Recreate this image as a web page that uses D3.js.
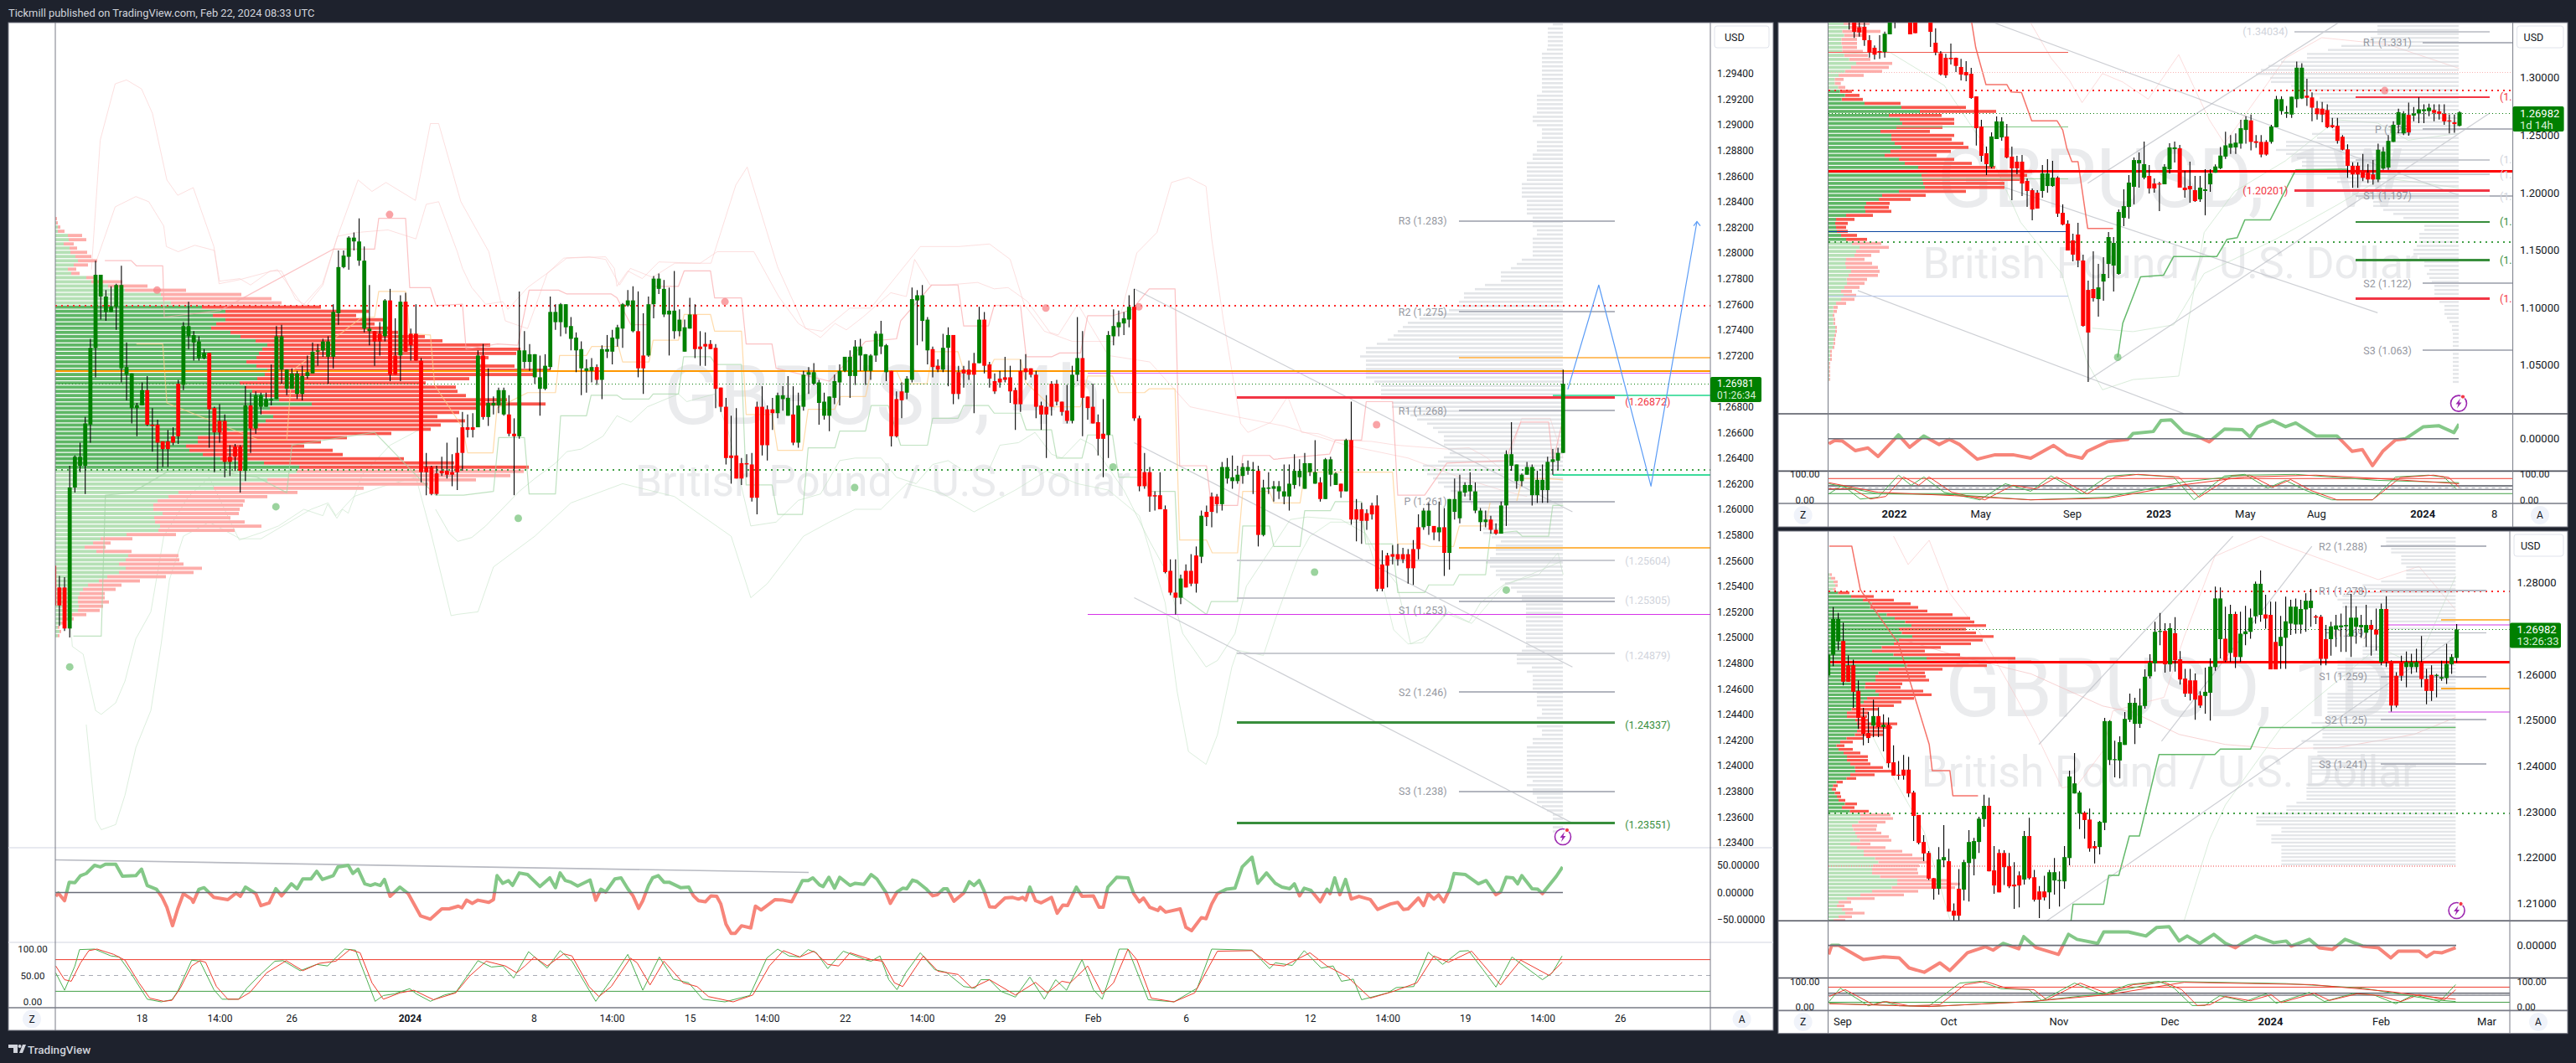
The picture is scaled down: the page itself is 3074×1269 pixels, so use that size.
<!DOCTYPE html>
<html><head><meta charset="utf-8"><script src="https://cdn.jsdelivr.net/npm/d3@7"></script>
<style>html,body{margin:0;padding:0;background:#1e222d}text{font-family:Roboto,"Liberation Sans",sans-serif}</style></head>
<body><div id="c"></div><script>
// ---------- price data, in pips (12698 = 1.2698), rows are [open, close, high, low]
const candles4h=[[12556,12525,12560,12520],[12539,12525,12548,12509],[12539,12507,12547,12505],[12507,12617,12634,12500],[12617,12641,12642,12613],[12634,12641,12652,12629],[12634,12667,12672,12612],[12666,12726,12733,12652],[12726,12783,12794,12703],[12766,12783,12783,12748],[12754,12766,12771,12747],[12754,12758,12774,12754],[12758,12775,12776,12740],[12710,12775,12790,12699],[12705,12711,12730,12685],[12679,12706,12706,12667],[12679,12681,12683,12657],[12681,12693,12699,12681],[12693,12666,12704,12665],[12666,12665,12679,12645],[12666,12652,12670,12629],[12653,12647,12653,12633],[12653,12647,12662,12633],[12657,12652,12664,12650],[12698,12657,12701,12651],[12697,12743,12746,12693],[12735,12743,12762,12725],[12730,12736,12739,12716],[12718,12731,12735,12716],[12718,12722,12725,12717],[12722,12678,12722,12648],[12679,12660,12680,12629],[12669,12660,12682,12652],[12669,12637,12674,12625],[12641,12637,12650,12626],[12649,12641,12651,12630],[12649,12630,12650,12613],[12630,12681,12696,12622],[12681,12663,12691,12644],[12663,12689,12692,12659],[12680,12689,12691,12674],[12680,12686,12691,12680],[12685,12686,12713,12681],[12686,12735,12743,12686],[12709,12735,12744,12698],[12694,12709,12709,12689],[12694,12706,12710,12694],[12690,12706,12708,12686],[12690,12704,12712,12685],[12704,12707,12720,12702],[12706,12723,12730,12706],[12723,12724,12729,12712],[12724,12731,12733,12719],[12719,12731,12735,12698],[12719,12754,12760,12710],[12753,12789,12802,12744],[12789,12798,12802,12788],[12797,12812,12813,12787],[12809,12812,12816,12802],[12794,12809,12827,12790],[12741,12794,12805,12738],[12739,12741,12775,12728],[12739,12731,12739,12712],[12737,12731,12746,12720],[12735,12763,12764,12731],[12763,12705,12772,12700],[12720,12705,12749,12705],[12720,12762,12767,12700],[12762,12723,12769,12723],[12737,12728,12741,12716],[12737,12716,12760,12716],[12716,12629,12718,12621],[12633,12629,12644,12611],[12633,12612,12634,12611],[12628,12612,12634,12611],
[12630,12628,12641,12626],[12630,12627,12652,12624],[12629,12627,12643,12618],[12644,12629,12656,12615],[12664,12644,12676,12630],[12664,12662,12674,12656],[12664,12662,12675,12656],[12664,12720,12724,12664],[12720,12672,12729,12670],[12672,12683,12710,12665],[12681,12683,12688,12674],[12681,12693,12695,12675],[12674,12693,12695,12673],[12674,12659,12689,12657],[12659,12657,12671,12611],[12657,12724,12770,12655],[12715,12724,12739,12710],[12715,12721,12729,12708],[12703,12721,12721,12698],[12694,12703,12720,12673],[12694,12712,12721,12693],[12711,12754,12766,12709],[12746,12754,12760,12740],[12746,12760,12761,12735],[12742,12760,12760,12737],[12733,12743,12750,12724],[12724,12734,12738,12707],[12710,12725,12731,12689],[12708,12710,12717,12691],[12708,12711,12718,12699],[12711,12701,12713,12697],[12701,12725,12728,12686],[12723,12725,12736,12718],[12723,12734,12740,12713],[12733,12742,12744,12727],[12741,12760,12761,12726],[12759,12763,12771,12758],[12739,12763,12774,12738],[12739,12710,12770,12703],[12720,12710,12753,12690],[12720,12760,12766,12719],[12760,12780,12782,12749],[12772,12780,12784,12768],[12752,12772,12779,12750],[12752,12755,12773,12720],[12739,12755,12786,12733],[12739,12748,12756,12735],[12723,12742,12748,12723],[12741,12752,12765,12741],[12752,12725,12760,12718],[12727,12725,12739,12712],[12729,12727,12738,12712],[12729,12725,12732,12725],[12726,12694,12729,12679],[12695,12680,12695,12676],[12680,12640,12687,12635],[12642,12640,12673,12620],[12642,12624,12679,12624],[12636,12624,12640,12619],[12636,12635,12643,12625],[12635,12609,12644,12606],[12680,12609,12684,12596],[12680,12650,12696,12642],[12678,12650,12681,12638],[12678,12675,12687,12662],[12675,12689,12691,12671],[12686,12689,12696,12677],[12673,12687,12704,12673],[12674,12652,12696,12650],[12652,12681,12691,12648],[12680,12705,12708,12677],[12705,12707,12711,12690],[12698,12707,12714,12697],[12683,12699,12701,12666],
[12673,12684,12691,12670],[12673,12688,12688,12661],[12687,12700,12705,12682],[12699,12708,12713,12681],[12708,12719,12719,12707],[12704,12719,12724,12687],[12704,12727,12732,12697],[12720,12727,12733,12708],[12708,12721,12721,12697],[12708,12720,12721,12701],[12720,12737,12739,12715],[12727,12737,12747,12721],[12707,12728,12729,12700],[12708,12657,12708,12649],[12686,12657,12692,12656],[12692,12685,12699,12671],[12691,12702,12704,12686],[12701,12764,12773,12699],[12763,12767,12771,12728],[12747,12767,12775,12731],[12724,12748,12750,12713],[12725,12711,12727,12703],[12712,12709,12717,12707],[12709,12726,12737,12707],[12726,12736,12742,12696],[12736,12690,12736,12682],[12707,12690,12712,12686],[12709,12706,12712,12695],[12709,12705,12716,12701],[12714,12705,12722,12675],[12714,12748,12758,12714],[12748,12712,12754,12706],[12713,12702,12715,12695],[12700,12692,12706,12690],[12702,12699,12708,12695],[12703,12701,12719,12699],[12703,12692,12712,12683],[12693,12682,12695,12662],[12708,12682,12717,12676],[12710,12707,12721,12701],[12710,12705,12710,12703],[12705,12680,12708,12671],[12681,12674,12684,12662],[12680,12674,12689,12640],[12698,12680,12700,12673],[12698,12684,12701,12681],[12684,12676,12684,12673],[12677,12669,12697,12667],[12669,12705,12712,12667],[12705,12718,12750,12700],[12718,12687,12739,12657],[12688,12679,12688,12670],[12680,12667,12698,12667],[12668,12655,12674,12642],[12659,12655,12686,12625],[12658,12736,12739,12640],[12735,12743,12756,12728],[12742,12746,12755,12735],[12745,12749,12754,12736],[12748,12758,12767,12742],[12758,12671,12772,12669],[12671,12618,12673,12614],[12629,12618,12644,12616],[12629,12610,12633,12598],[12611,12610,12614,12599],[12611,12600,12629,12600],[12600,12551,12603,12550],[12552,12535,12561,12533],[12535,12531,12561,12518],[12531,12546,12549,12526],[12552,12539,12557,12539],[12552,12542,12565,12540],[12564,12542,12571,12535],
[12563,12595,12599,12558],[12598,12594,12603,12587],[12610,12598,12613,12586],[12610,12604,12612,12597],[12604,12633,12637,12599],[12624,12633,12640,12620],[12622,12625,12642,12616],[12622,12627,12634,12620],[12626,12633,12636,12620],[12630,12633,12638,12627],[12630,12631,12637,12612],[12630,12580,12634,12571],[12580,12617,12623,12579],[12616,12617,12629,12612],[12616,12618,12622,12606],[12614,12618,12622,12608],[12610,12614,12635,12604],[12610,12620,12635,12599],[12619,12630,12643,12616],[12625,12630,12639,12618],[12616,12636,12644,12616],[12629,12636,12636,12626],[12620,12629,12654,12620],[12621,12608,12625,12606],[12608,12639,12640,12608],[12627,12639,12641,12618],[12619,12628,12629,12619],[12620,12614,12620,12609],[12614,12654,12655,12614],[12654,12592,12684,12588],[12600,12592,12608,12575],[12600,12591,12605,12573],[12597,12591,12600,12584],[12603,12596,12605,12592],[12603,12538,12611,12536],[12557,12538,12568,12536],[12564,12556,12566,12539],[12565,12563,12572,12557],[12565,12561,12573,12556],[12565,12561,12570,12558],[12565,12554,12569,12542],[12569,12554,12576,12541],[12586,12569,12596,12561],[12586,12599,12601,12584],[12587,12599,12605,12580],[12587,12582,12587,12576],[12582,12586,12606,12575],[12586,12566,12601,12548],[12566,12608,12608,12553],[12598,12608,12624,12592],[12593,12614,12627,12589],[12613,12619,12621,12610],[12614,12619,12629,12607],[12599,12614,12621,12597],[12590,12599,12601,12583],[12590,12592,12599,12586],[12592,12584,12595,12581],[12584,12581,12589,12580],[12581,12603,12606,12581],[12603,12643,12646,12587],[12634,12643,12668,12630],[12622,12635,12635,12616],[12622,12627,12628,12618],[12627,12633,12637,12627],[12611,12633,12635,12603],[12611,12623,12630,12605],[12615,12623,12635,12605],[12615,12637,12641,12605],[12637,12639,12647,12627],[12638,12644,12648,12631],[12644,12698,12709,12644]];
const candles1w=[[13520,13560,13600,13418],[13500,13399,13530,13345],[13438,13394,13500,13357],[13443,13326,13480,13277],[13326,13219,13370,13175],[13260,13200,13280,13158],[13231,13219,13370,13163],[13224,13382,13400,13175],[13377,13500,13530,13377],[13500,13560,13600,13430],[13550,13600,13650,13520],[13600,13560,13650,13510],[13560,13377,13600,13377],[13500,13387,13520,13387],[13520,13500,13540,13490],[13500,13520,13560,13490],[13520,13399,13560,13268],[13304,13219,13430,13195],[13212,13027,13231,13017],[13173,13020,13207,12998],[13173,13161,13297,13114],[13173,13102,13175,13049],[13093,13027,13163,12976],[13049,13020,13144,12969],[13034,12823,13085,12816],[12837,12560,12837,12410],[12575,12320,12633,12269],[12342,12247,12400,12152],[12225,12488,12524,12211],[12466,12619,12662,12466],[12480,12619,12655,12451],[12488,12305,12597,12298],[12313,12211,12400,11934],[12269,12211,12320,12160],[12269,12079,12327,11970],[12101,12014,12123,11875],[12021,11853,12036,11759],[11999,11861,12021,11861],[12014,12167,12240,11955],[12057,12167,12291,11999],[12057,12130,12276,12050],[12130,11817,12142,11788],[11824,11722,11897,11715],[11729,11496,11759,11496],[11584,11460,11642,11401],[11635,11409,11737,11350],[11409,10840,11460,10833],[11153,10782,11234,10352],[11161,11081,11489,11051],[11073,11175,11379,10920],[11226,11292,11438,11059],[11379,11613,11656,11255],[11365,11562,11613,11139],[11292,11831,11853,11285],[11780,11882,12028,11708],[11875,12087,12152,11773],[12050,12283,12305,11897],[12254,12283,12349,12043],[12130,12247,12444,12116],[12145,12036,12240,11992],[12079,12036,12123,11999],[12079,12072,12094,11839],[12072,12225,12247,12072],[12203,12393,12429,12167],[12378,12393,12444,12262],[12385,12043,12415,12043],[12043,12021,12189,11955],[12057,12028,12269,11912],[12021,11926,12145,11919],[11941,12043,12145,11919],[12014,12028,12203,11802],[12072,12167,12203,12006],
[12173,12227,12246,12173],[12212,12322,12397,12203],[12313,12411,12530,12292],[12390,12426,12501,12337],[12393,12435,12515,12337],[12426,12560,12634,12382],[12545,12634,12664,12426],[12628,12441,12679,12367],[12447,12432,12501,12390],[12441,12331,12501,12307],[12441,12331,12456,12322],[12441,12575,12590,12426],[12569,12813,12842,12569],[12709,12813,12837,12679],[12688,12700,12753,12649],[12679,12834,12834,12649],[12813,13087,13140,12739],[12819,13087,13125,12813],[12843,12825,12991,12753],[12828,12739,12872,12620],[12733,12682,12798,12635],[12730,12679,12789,12611],[12718,12569,12768,12560],[12587,12569,12649,12560],[12581,12450,12649,12426],[12486,12373,12501,12367],[12376,12233,12420,12129],[12233,12158,12263,12042],[12233,12158,12263,12042],[12194,12129,12337,12099],[12173,12114,12248,12084],[12158,12114,12283,12069],[12114,12373,12426,12090],[12209,12358,12397,12197],[12218,12450,12500,12197],[12441,12590,12620,12441],[12590,12700,12730,12515],[12515,12688,12709,12500],[12676,12524,12783,12495],[12670,12688,12745,12620],[12688,12724,12828,12605],[12709,12724,12768,12605],[12709,12739,12774,12664],[12718,12694,12768,12620],[12706,12685,12768,12635],[12685,12620,12768,12590],[12628,12620,12679,12515],[12611,12596,12679,12521],[12581,12698,12709,12575]];
const candles1d=[[12598,12643,12660,12577],[12643,12721,12747,12618],[12672,12721,12734,12653],[12673,12584,12713,12576],[12620,12584,12642,12584],[12620,12562,12632,12527],[12564,12505,12587,12481],[12507,12470,12527,12445],[12472,12461,12518,12450],[12488,12509,12545,12463],[12509,12485,12528,12463],[12485,12490,12513,12432],[12490,12406,12506,12396],[12408,12379,12445,12379],[12381,12379,12411,12370],[12392,12379,12424,12370],[12392,12340,12420,12332],[12342,12291,12346,12236],[12293,12232,12293,12229],[12234,12209,12249,12192],[12210,12154,12214,12151],[12155,12132,12155,12108],[12132,12196,12223,12119],[12194,12201,12271,12179],[12192,12082,12219,12082],[12084,12073,12100,12061],[12132,12073,12175,12060],[12130,12190,12195,12106],[12188,12234,12260,12104],[12197,12236,12243,12161],[12234,12285,12289,12210],[12284,12313,12337,12267],[12313,12170,12331,12170],[12172,12139,12225,12121],[12210,12124,12218,12124],[12210,12179,12216,12140],[12181,12137,12210,12133],[12141,12137,12190,12088],[12161,12139,12170,12091],[12152,12247,12258,12141],[12247,12155,12287,12152],[12157,12108,12173,12104],[12126,12108,12138,12068],[12126,12113,12160,12106],[12124,12168,12173,12088],[12150,12168,12199,12119],[12150,12151,12170,12093],[12148,12201,12225,12132],[12199,12377,12390,12183],[12340,12362,12428,12340],[12296,12342,12346,12262],[12298,12282,12301,12241],[12283,12220,12307,12213],[12225,12220,12236,12187],[12223,12278,12280,12207],[12276,12498,12505,12260],[12413,12498,12500,12402],[12413,12415,12455,12375],[12412,12452,12465,12373],[12446,12503,12518,12446],[12501,12538,12558,12496],[12492,12538,12549,12448],[12492,12532,12569,12483],[12531,12595,12611,12525],[12596,12626,12644,12591],[12624,12693,12715,12606],[12693,12695,12734,12664],[12695,12622,12712,12604],[12622,12701,12712,12606],[12690,12631,12725,12606],[12633,12589,12651,12578],[12591,12558,12612,12551],[12587,12558,12612,12543],[12587,12545,12602,12501],[12554,12532,12563,12527],[12553,12562,12615,12514],[12560,12617,12635,12499],
[12616,12766,12792,12608],[12677,12766,12790,12635],[12678,12630,12748,12627],[12647,12732,12752,12627],[12732,12638,12737,12614],[12638,12689,12737,12627],[12688,12694,12750,12664],[12693,12724,12744,12678],[12727,12798,12803,12711],[12730,12798,12827,12715],[12731,12722,12774,12700],[12730,12611,12759,12611],[12671,12611,12759,12611],[12662,12682,12728,12612],[12680,12716,12770,12612],[12711,12748,12763,12686],[12709,12748,12766,12689],[12709,12743,12763,12689],[12742,12761,12777,12693],[12745,12761,12787,12704],[12727,12724,12730,12710],[12726,12634,12730,12620],[12677,12634,12708,12620],[12677,12705,12715,12641],[12698,12707,12730,12660],[12703,12707,12733,12649],[12705,12708,12750,12649],[12683,12724,12776,12638],[12704,12724,12749,12667],[12703,12708,12730,12680],[12691,12708,12752,12660],[12708,12698,12719,12641],[12698,12687,12744,12652],[12627,12743,12755,12620],[12743,12627,12771,12616],[12629,12532,12631,12519],[12597,12532,12605,12528],[12627,12597,12641,12586],[12616,12627,12650,12572],[12616,12627,12645,12601],[12616,12627,12656,12605],[12627,12590,12684,12572],[12590,12564,12612,12535],[12599,12564,12620,12542],[12597,12599,12601,12550],[12591,12594,12630,12586],[12592,12623,12667,12579],[12622,12638,12644,12601],[12636,12698,12710,12626]];
// ---------- volume profile, up volume and total volume per row, top row first
const vpUp4h=[0,1,3,3,15,16,10,17,18,24,27,22,15,19,37,43,63,83,126,128,138,175,203,188,203,192,186,209,221,239,253,247,243,240,228,240,253,250,241,220,227,235,250,267,306,256,245,260,251,240,233,195,170,170,156,160,176,197,249,291,288,278,253,222,189,147,135,122,117,117,128,118,119,125,123,85,54,45,35,49,87,84,76,84,76,62,52,39,33,29,27,27,28,27,20,20,7,3,5,3];
const vpAll4h=[2,3,6,11,32,37,22,26,38,43,50,39,25,29,50,80,110,156,222,258,270,317,374,359,391,381,398,409,441,462,519,555,550,517,502,548,591,571,494,442,478,480,490,539,585,502,482,456,489,460,448,401,348,317,297,331,343,416,476,565,559,543,502,445,368,289,253,226,224,220,219,209,226,246,214,144,92,66,60,91,147,148,153,175,165,132,101,79,72,59,59,64,57,53,37,22,10,5,7,5];
const vpUp1w=[60,80,55,62,52,52,55,55,62,80,105,87,65,42,28,28,40,47,65,53,135,267,333,222,261,270,249,192,231,231,243,267,228,207,258,279,327,360,339,342,345,351,258,198,186,141,135,138,69,33,30,33,36,51,69,90,117,105,99,69,66,69,87,78,71,72,63,51,60,51,33,23,23,21,23,23,30,30,27,24,23,21,12,12,12,8,8,8,8,8];
const vpAll1w=[153,125,192,130,108,108,108,129,147,156,234,222,198,132,60,50,66,90,117,129,264,498,606,411,456,456,414,369,456,447,489,507,444,393,456,519,603,735,717,690,636,636,498,354,300,225,222,231,165,99,75,69,75,108,144,195,222,189,159,135,162,183,189,183,144,135,117,90,105,99,69,39,36,27,30,30,36,36,33,30,30,27,18,18,18,12,12,12,12,12];
const vpUp1d=[10,15,24,30,22,40,87,129,160,155,178,214,243,280,303,258,268,306,258,240,196,162,238,357,390,286,222,184,174,174,138,136,174,186,144,132,120,88,72,72,102,108,114,108,100,70,48,34,42,60,72,72,84,100,102,84,70,34,22,18,28,36,42,64,54,82,120,120,112,90,94,102,108,118,84,108,132,132,172,184,165,162,162,190,252,252,232,162,120,72,42,36,54,66,42,24];
const vpAll1d=[18,30,39,39,32,81,168,240,300,327,360,450,513,528,570,498,534,597,558,516,408,351,477,675,732,573,414,351,354,366,270,264,345,375,312,267,240,184,150,144,150,252,234,201,201,130,93,63,93,120,147,147,156,201,234,171,105,57,39,33,48,51,66,108,99,150,228,237,210,180,177,195,222,231,156,210,270,306,345,358,330,324,327,370,430,477,459,327,276,171,87,63,93,135,90,66];
const sessionVol4h=[12,18,18,18,18,18,19,25,25,25,25,25,25,25,25,25,25,31,31,31,31,31,36,36,31,25,25,25,31,31,31,36,36,43,43,43,43,43,49,49,49,49,43,43,43,43,36,36,36,31,31,36,36,36,36,36,49,55,62,74,74,74,93,105,118,118,124,124,136,166,171,185,191,197,202,209,222,235,235,242,235,235,235,235,235,225,217,217,217,217,204,204,190,182,174,162,155,149,142,142,142,137,135,142,149,167,167,162,155,149,142,134,125,120,110,105,102,100,100,95,95,95,85,74,80,80,80,87,92,87,80,80,75,69,62,55,49,49,44,44,44,44,44,44,44,44,44,44,44,49,55,55,55,37,43,36,36,36,36,31,31,31,31,25,25,31,31,31,25,25,36,36,43,43,43,43,43,43,43,43,36,43,36,36,31,31,25,19,12,12,12,12,12];
const sessionVol1w=[97,97,97,105,114,140,156,181,181,212,227,236,242,225,224,200,181,175,166,166,157,166,166,157,145,145,151,175,169,206,206,218,206,193,187,187,193,200,157,145,127,127,127,120,102,102,90,78,66,54,41,41,47,47,47,50,54,54,47,41,41,35,38,35,32,29,29,29,29,23,17,17,17,14,11,8,8,7,7,7,7,7,7,7,7,7,7,7,7,7];
const sessionVol1d=[83,83,83,77,77,65,65,65,59,59,59,59,89,111,123,129,135,141,135,135,92,92,92,92,92,92,92,92,92,92,111,111,111,111,141,141,141,141,141,129,129,129,129,153,153,153,153,153,153,153,153,172,159,159,159,159,184,170,170,165,165,172,172,172,172,172,156,156,178,178,178,178,178,190,202,202,232,238,238,238,208,208,220,220,220,208,208,208,208,208,208];
// ---------- indicator lines, rows are [bar index, value]
const u1_4h=[[7.2,12787],[8.9,12888],[11.8,12932],[14,12935],[16.9,12928],[19,12909],[21.8,12857],[23.9,12845],[26.9,12851],[30.9,12805],[31.9,12776],[35.7,12779],[43.2,12787],[48.1,12759],[51.9,12776],[55.1,12816],[58.8,12857],[61.5,12848],[64.2,12855],[69.9,12841],[72.8,12901],[74.4,12901],[78.7,12840],[84.1,12801],[87.3,12747],[91.6,12741],[95.4,12784],[98.6,12796],[103.5,12797],[106.7,12795],[109.4,12775],[111.5,12788],[115.8,12781],[120.1,12792],[127.1,12792],[131.9,12853],[134.1,12867],[140,12789],[145.4,12741],[148.6,12739],[154,12757],[158,12757],[167.6,12805],[175,12805],[181,12807],[185,12795],[187.7,12760],[191.6,12739],[197,12731],[205,12731],[209.5,12800],[213.4,12816],[216.2,12855],[219.5,12859],[222.9,12852],[224,12811],[226.2,12749],[229.6,12667],[231,12660],[235.5,12668],[238.7,12688],[241.4,12660],[244.6,12659],[247.9,12654],[254.9,12653],[259.8,12650],[269.5,12647],[273.8,12648],[277,12641],[280.8,12629],[284,12671],[289.5,12671],[292,12640]];
const u2_4h=[[8,12792],[11.8,12836],[15.8,12844],[18.3,12840],[21.2,12821],[21.7,12805],[24,12801],[27.2,12806],[31,12802],[32,12778],[35.9,12780],[38,12775],[41.8,12786],[44,12786],[46.7,12764],[48.8,12759],[52,12775],[54.8,12813],[58.6,12816],[64.6,12818],[70,12811],[72,12838],[74.4,12840],[78,12801],[79,12788],[80.8,12773],[83.5,12760],[86.8,12762],[87.8,12756],[91.6,12773],[96,12786],[99.2,12796],[106.7,12797],[108.4,12788],[108.9,12774],[111,12786],[113.8,12780],[117,12793],[125,12792],[128.3,12801],[135.4,12801],[140.2,12766],[144,12745],[148.3,12734],[151.1,12745],[153.3,12740],[156.5,12750],[161.9,12769],[164.9,12766],[166.5,12795],[169.5,12775],[172.7,12775],[178.7,12777],[181.9,12772],[184.6,12773],[188.4,12762],[192.7,12738],[194.3,12736],[198.1,12760],[204,12720],[212,12715],[219.8,12680],[229,12672],[238,12665],[250,12650],[262,12640],[272,12625],[280,12615],[285,12610]];
const l0_4h=[[2.4,12553],[3.5,12493],[5.6,12487],[8,12443],[9.1,12440],[11.9,12449],[13.7,12466],[15.8,12499],[18.7,12520],[21.2,12579],[26,12610],[30,12625],[35.8,12576],[40.2,12582],[43.4,12587],[48.3,12600],[52,12595],[52.9,12604],[54.7,12593],[55.8,12600],[56.9,12597],[59.6,12627],[65,12650],[72,12665]];
const l1_4h=[[6.2,12432],[8,12358],[9.1,12350],[11.9,12354],[13.7,12377],[15.8,12414],[18.7,12443],[20.7,12495],[22.3,12545],[25,12579],[30,12590],[36,12577],[40,12577],[49.7,12600],[53,12605],[54.5,12595],[58,12610],[63.7,12618],[70,12625],[73,12580],[76.8,12517],[78,12518],[82,12520],[85,12555],[93,12579],[100,12605],[110,12620],[120,12610],[131,12579],[134.8,12531],[138,12542],[145,12579],[150,12590],[155,12600],[160,12600],[165,12620],[172,12612],[178,12598],[186,12615],[192,12630],[198,12620],[204,12615],[210,12595],[215,12527],[217.3,12458],[219.5,12411],[222.9,12401],[225.1,12424],[227.9,12477],[229,12490],[234,12486],[236.3,12514],[240.8,12563],[243,12579],[247,12590],[253,12590],[257.5,12534],[259.2,12506],[262,12495],[264.8,12496],[269.2,12519],[274.3,12511],[280.4,12540],[292,12560]];
const l2_4h=[[73.8,12600],[76.5,12581],[78.1,12575],[80.8,12578],[83.5,12587],[90,12614],[93,12624],[97,12636],[99.2,12645],[102,12647],[106.2,12657],[108.9,12673],[111.6,12668],[114.8,12680],[120.8,12690],[122.4,12684],[127.8,12690],[130.5,12660],[134.8,12587],[139.7,12590],[144,12607],[148.3,12612],[152,12638],[155,12640],[160,12640],[163,12625],[166.8,12620],[170,12635],[173,12638],[176,12630],[181,12632],[183,12650],[186.6,12652],[189.8,12660],[193,12643],[195,12640],[198.6,12655],[201,12650],[207,12615],[212,12575],[215,12553],[218.4,12503],[222.9,12477],[225.1,12482],[228.5,12503],[230.7,12540],[239.2,12592],[242.5,12594],[249,12592],[253.8,12581],[257.6,12553],[259.8,12542],[262.5,12495],[265.7,12501],[269.8,12520],[273.8,12512],[276,12527],[280.8,12542],[287.3,12549],[291,12566],[292,12549]];
const pinkA_4h=[[9.8,12794],[14.9,12794],[15.9,12790],[21,12790],[21.3,12750],[32,12755],[54,12803],[62,12803],[62.8,12827],[68,12827],[68.8,12773],[72.8,12773],[73.9,12759],[79,12760],[79.7,12725],[85.8,12729],[89.7,12728],[91.9,12771],[97.6,12771],[99.2,12768],[107.8,12768],[108.9,12765],[111.6,12744],[115,12744],[116,12774],[120.8,12774],[121.9,12786],[127,12786],[127.8,12765],[133,12765],[133.9,12729],[138.9,12729],[139.7,12710],[150,12700],[157,12731],[163,12733],[163.8,12747],[169.8,12775],[174.9,12775],[176,12743],[180.8,12743],[181.9,12759],[187,12759],[188.1,12719],[193,12719],[194.6,12722],[198.6,12722],[200,12751],[204.8,12751],[208.6,12756],[211.9,12772],[216.9,12772],[217.8,12634],[223,12634],[223.9,12603],[229,12603],[230,12642],[235.2,12642],[236,12639],[246.8,12643],[247.9,12654],[253,12654],[253.9,12684],[259,12684],[260,12611],[265.2,12611],[269.5,12636],[280.8,12638],[283.8,12668],[289.2,12668],[290,12636],[292,12671]];
const orangeA_4h=[[15.9,12729],[21,12729],[21.8,12683],[39.6,12654],[45,12654],[46,12708],[59.6,12750],[62,12750],[62.8,12770],[68,12770],[68.8,12737],[72.8,12736],[73.6,12697],[79,12664],[80,12644],[84.9,12644],[85.7,12679],[91.6,12691],[97,12691],[97.8,12720],[103,12720],[104,12727],[109.2,12727],[110,12715],[115.1,12715],[115.9,12732],[120.8,12732],[121.9,12752],[127,12752],[127.8,12739],[133,12739],[133.9,12674],[138.9,12674],[140,12646],[144.8,12646],[145.9,12678],[151,12678],[152.2,12688],[157,12688],[158.1,12708],[163,12708],[164.1,12698],[168.9,12698],[170,12723],[174.9,12723],[176,12708],[180.8,12708],[181.9,12717],[187,12717],[188,12699],[193,12680],[198.6,12680],[200,12704],[204.8,12704],[206,12691],[211,12691],[211.9,12694],[216.9,12694],[217.8,12576],[223,12576],[224.1,12566],[229,12566],[230,12614],[235.2,12614],[236,12605],[241.1,12605],[242,12629],[248,12629],[259,12629],[260,12573],[264.9,12573],[266.2,12571],[270.8,12571],[271.9,12587],[277,12587],[277.9,12606],[283,12606],[284.1,12624],[289.2,12624],[292,12623]];
const greenA_4h=[[3.7,12501],[9.1,12501],[9.9,12611],[15,12613],[21.8,12629],[27,12632],[39.3,12625],[45,12613],[46,12650],[62,12660],[73.8,12611],[79.2,12611],[85,12614],[86,12656],[91,12656],[91.9,12612],[97,12612],[98,12673],[103,12673],[103.9,12689],[108.9,12689],[110,12686],[115.1,12686],[115.9,12690],[120.8,12690],[121.8,12719],[127,12719],[128,12713],[133,12713],[133.9,12619],[138.9,12619],[140,12596],[144.8,12596],[145.9,12648],[151.1,12648],[152,12661],[157,12661],[158.1,12681],[161.4,12681],[163.8,12650],[169,12650],[170,12671],[174.9,12671],[176,12681],[180.8,12681],[181.9,12675],[187,12675],[188.1,12662],[193,12662],[194,12640],[198.9,12640],[200,12658],[204.8,12658],[206,12625],[211,12625],[211.9,12614],[216.9,12614],[217.8,12533],[223,12518],[223.9,12528],[229,12528],[230,12587],[235.2,12587],[236,12571],[241.1,12571],[242,12599],[247,12599],[247.9,12606],[253,12606],[253.8,12573],[259,12573],[260,12535],[265.2,12535],[266,12541],[270.8,12541],[271.9,12549],[277,12549],[277.9,12581],[283,12583],[284.1,12579],[289.2,12579],[290,12603],[292,12603]];
const osc4h=[[0.3,-7],[0.8,-1],[2,-15],[2.9,19],[4,18],[5.1,31],[6.2,35],[7.8,50],[8.9,47],[9.9,52],[11.9,52],[13.2,30],[15.8,31],[16.9,43],[18,13],[19.8,6],[20.9,-9],[21.8,-27],[22.9,-61],[23.9,-30],[25,-2],[26.6,-12],[26.9,-18],[28,6],[29,9],[30.9,-9],[33.6,-13],[35.2,-1],[36,-7],[37,10],[39,-2],[40,-24],[41.6,-19],[42.9,7],[44,-6],[45.9,16],[47,7],[48.1,25],[49.7,25],[50.8,39],[51.9,24],[54,31],[54.9,47],[56.9,50],[57.8,35],[58.8,43],[60.1,16],[61.2,13],[62.1,16],[63.1,13],[63.9,24],[65,-7],[66.9,10],[68.5,-2],[70.9,-43],[72.8,-49],[75,-30],[76.4,-30],[78.2,-25],[78.9,-28],[79.8,-14],[80.9,-20],[82,-14],[84.1,-18],[85,-13],[85.7,31],[86.8,17],[87.9,22],[88.7,13],[90,36],[91.6,33],[94,11],[95.9,27],[97,9],[97.9,36],[98.9,22],[100,19],[101.3,12],[103.7,23],[104.8,-14],[105.8,6],[106.7,1],[108.5,25],[109.7,27],[111,7],[112,-6],[113.1,-29],[113.9,-15],[115,13],[115.8,27],[116.9,31],[118,19],[119,19],[121.2,9],[122.8,10],[123.7,-6],[124.7,-15],[126,-17],[127.1,-6],[128.2,-7],[129,-21],[130,-58],[131,-75],[131.8,-75],[133,-61],[134.8,-65],[135.7,-25],[136.8,-32],[139.5,-13],[141.1,-14],[142.7,-17],[144.8,22],[145.9,22],[146.8,27],[148.1,14],[148.8,11],[149.9,28],[151,8],[152,28],[154,13],[155,17],[156.7,15],[158.1,33],[159.2,25],[160.9,1],[161.8,-20],[163.1,1],[164.2,8],[165,7],[166.1,23],[167,20],[168.7,7],[170,-6],[170.9,-4],[172.1,7],[172.8,7],[174.1,-16],[176,-1],[177.1,20],[178,13],[179,22],[179.9,4],[181,-26],[182.1,-27],[184,-10],[185.5,-9],[186.6,-12],[187.4,-9],[188,-14],[188.8,10],[189.9,-15],[191,-19],[193,-9],[194.1,-38],[195.2,-23],[196.1,-24],[197.8,10],[198.9,-7],[201.1,-6],[202.2,-27],[203,-27],[203.9,10],[205.6,28],[207.8,27],[208.9,-2],[210,-17],[210.8,-10],[212,-27],[213.6,-33],[214,-27],[215.1,-36],[217.9,-30],[219,-64],[220.1,-70],[222,-46],[222.9,-48],[224,-21],[225.1,-2],[226.8,6],[228.5,8],[229.9,47],[231.8,65],[232.9,17],[234.6,36],[236.3,17],[237.6,10],[239.1,7],[240,16],[241,-6],[241.9,8],[243.2,4],[245,-17],[246.3,6],[246.9,-2],[247.8,27],[248.8,-4],[249.9,24],[251,-12],[252.5,-7],[254.7,-13],[256.1,-31],[258.6,-21],[260,-18],[261.1,-31],[262,-30],[264,-10],[265,-24],[265.9,-2],[267,-12],[267.9,-4],[268.9,-17],[270.1,7],[270.9,35],[273.1,33],[275.6,16],[277.1,22],[279,-4],[279.9,1],[281,28],[282.3,27],[283.2,16],[284,31],[286,7],[287.1,6],[288,-2],[290.7,30],[291.9,47]];
const stochK4h=[[0.3,55],[2,22],[4,68],[4.9,99],[7.8,100],[11,87],[12.6,85],[14.8,55],[18,5],[20.7,0],[22.8,4],[23.9,20],[26.6,79],[28.2,77],[30.9,23],[32.5,5],[35.7,5],[37.3,26],[39.5,48],[42.7,77],[44.3,78],[47.6,59],[50.8,71],[52.9,68],[56.2,100],[58.3,98],[60.5,42],[62.1,1],[63.7,12],[65.8,15],[68.8,25],[70.1,15],[72.8,1],[75.5,13],[77.7,18],[82,78],[84.6,66],[86.8,68],[88.9,45],[91.8,95],[95.4,64],[97.9,97],[100.2,77],[104.8,1],[108.5,52],[111,90],[113.9,22],[117.1,85],[119.8,43],[122.8,36],[125.5,5],[129.8,0],[134.6,12],[137.9,83],[140,100],[142.2,87],[144.3,85],[145.9,99],[147.5,93],[149.7,63],[152.7,96],[157.2,79],[158.1,77],[159.8,87],[161.5,42],[163.1,23],[164.8,55],[167.6,93],[170.4,61],[172.6,56],[176,29],[178.2,26],[179.3,42],[181,42],[183.2,20],[186,9],[188.8,47],[191.6,5],[193.8,42],[195.9,22],[198.9,80],[201.1,23],[202.8,5],[206.1,100],[207.8,100],[211.7,4],[216.7,0],[221.2,26],[224,100],[231.8,98],[235.2,63],[236.3,74],[239.6,69],[241.9,97],[245.2,64],[247.5,68],[249.1,39],[251.4,43],[253,4],[258.1,17],[259.7,27],[263.1,29],[265.9,94],[268.7,71],[272,96],[273.7,97],[276.5,61],[279,28],[282.1,85],[288,42],[289.9,55],[291.8,87]];
const stochD4h=[[0.3,68],[2,42],[3.3,39],[5.1,74],[6.7,97],[8.3,100],[11.5,90],[13.7,79],[16.4,36],[18.5,7],[21.2,1],[22.8,3],[24.4,26],[26.6,68],[28.2,78],[29.3,75],[31.4,29],[33.6,5],[35.7,5],[37.9,18],[41.1,55],[44.9,78],[48.1,59],[51.3,73],[54.5,77],[57.2,99],[59.2,93],[61.5,36],[63.7,5],[66.9,17],[69.6,22],[73.4,4],[77.7,17],[80.3,48],[83.6,77],[87.3,68],[89.5,55],[91.1,68],[92.9,85],[95.4,68],[98.6,91],[100.2,87],[103.5,29],[105.4,10],[107.8,29],[111.5,83],[112.8,74],[115.3,32],[118,77],[121.7,36],[124.4,29],[126.6,10],[131.4,0],[135.2,13],[138.4,68],[141.1,97],[144.3,85],[147,96],[149.7,71],[151.8,68],[154,93],[158.1,80],[160.3,77],[162.6,36],[164.2,29],[168.2,87],[171,58],[174.9,52],[177.6,26],[181,42],[186,13],[189.9,37],[192.2,17],[195,39],[196.6,36],[200,68],[202.8,15],[205,36],[207.8,100],[209.5,80],[212.3,7],[216.7,0],[220.7,17],[225.1,96],[231.8,97],[235.2,71],[238,68],[243,93],[246.3,68],[250.2,48],[254.7,7],[259.2,20],[263.7,36],[267,87],[269.8,75],[274.3,96],[279.9,32],[283.8,79],[289.3,50],[291.8,75]];
const osc1w=[[-4,-15],[-2.8,-5],[-1.3,-7],[1.2,-35],[3.7,-27],[5.7,-52],[9.7,11],[11.9,-25],[14.7,8],[17.7,-17],[19.7,-2],[21.7,-17],[25.2,-60],[28.7,-47],[32.2,-47],[35.7,-57],[40.2,-20],[42.8,-47],[45.8,-57],[46.8,-37],[50.8,-9],[54.8,-2],[55.8,15],[59.8,21],[61.3,53],[63.3,55],[65.8,18],[68.3,8],[70.8,-9],[73.8,28],[77.3,26],[78.8,5],[80.3,35],[83.3,53],[85.8,35],[87.8,46],[91.8,8],[95.9,8],[98.9,-37],[100.9,-32],[102.9,-79],[104.9,-37],[107.4,-4],[109.4,0],[112.9,35],[115.9,38],[118.9,18],[119.9,43]];
const osc1d=[[0.1,-27],[0.7,0],[2.1,0],[7,-42],[11,-34],[14.1,-37],[16.1,-67],[19.1,-80],[22.2,-52],[24.2,-75],[27.7,-22],[31.3,-4],[32.8,-14],[34.8,6],[37.9,-10],[38.9,26],[41.4,-7],[45.8,-27],[47.8,33],[49.5,18],[53.6,6],[54.8,40],[59.7,40],[63.2,28],[65.3,53],[67.8,56],[69.8,13],[71.4,28],[73.9,6],[76.7,33],[79,6],[81,-7],[82.5,8],[85,28],[88.6,8],[91.1,13],[92.1,-2],[95.7,18],[97.7,-7],[100.3,-12],[102.8,18],[106.3,-2],[109.4,-7],[111.9,-37],[113.4,-17],[117.5,-17],[119,-34],[120.5,-20],[122.1,-22],[124.8,-7]];
const kFast1w=[[-4,24],[-1.3,57],[2.2,4],[5.7,11],[9.7,96],[12.2,57],[14.7,89],[18.7,30],[25.7,1],[30.7,63],[35.7,34],[39.7,93],[45.8,24],[50.8,92],[55.8,99],[63.8,89],[67.8,1],[73.8,93],[77.8,99],[82.3,46],[85.8,76],[89.8,37],[94.9,1],[102.9,1],[107.4,89],[113.9,96],[116.9,89],[119.4,43]];
const dFast1w=[[-4,43],[0.7,43],[4.2,4],[7.2,14],[10.7,89],[13.7,57],[15.7,89],[20.2,30],[26.7,1],[32.2,57],[36.7,43],[40.8,89],[46.8,24],[52.3,89],[56.8,99],[64.8,89],[68.8,11],[75.3,93],[78.8,96],[83.3,50],[86.8,79],[90.8,37],[95.9,1],[102.9,1],[108.4,87],[114.9,96],[117.9,87],[119.9,50]];
const kSlow1w=[[-4,63],[5.7,24],[20.7,21],[35.7,1],[50.8,11],[65.8,70],[77.8,96],[87.8,99],[103.9,76],[119.9,67]];
const dSlow1w=[[-4,67],[5.7,30],[20.7,17],[35.7,1],[50.8,7],[65.8,59],[77.8,89],[91.8,96],[103.9,83],[119.9,63]];
const kFast1d=[[0.2,20],[2.4,73],[8,3],[11,20],[14.1,3],[20.1,3],[26.2,93],[30.3,100],[34.3,71],[39.9,67],[42.5,24],[49,93],[54.6,47],[59.7,87],[65.8,100],[68.8,73],[72.4,4],[74.9,4],[77.9,43],[83,20],[87.1,51],[89.1,13],[95.7,56],[98.7,20],[104.3,51],[108.4,47],[112.9,11],[116.5,47],[121.6,20],[124.8,87]];
const dFast1d=[[0.2,40],[3.4,67],[9,7],[11.5,20],[16.1,3],[22.2,7],[27.2,87],[31.3,100],[35.4,73],[40.9,67],[43.5,27],[50.1,93],[55.6,51],[60.7,87],[66.8,97],[70.3,67],[73.4,4],[75.9,7],[79,40],[84,23],[88.1,47],[90.1,16],[96.7,53],[99.7,24],[105.3,51],[109.4,44],[113.9,20],[117.5,47],[122.6,27],[124.8,67]];
const kSlow1d=[[0.2,13],[20.1,0],[40.4,20],[55.6,53],[66.8,100],[91.1,91],[106.3,73],[120.5,27],[124.8,20]];
const dSlow1d=[[0.2,11],[20.1,0],[40.4,20],[55.6,47],[70.8,96],[96.2,87],[111.4,60],[120.5,37],[124.8,29]];
const wRedStep=[[24.1,13479],[24.9,13260],[26.9,12940],[31,12940],[31.8,12876],[33.9,12871],[35.9,12624],[40.9,12624],[42,12543],[42.8,12385],[43.8,12269],[45,12269],[46.9,11688],[51.9,11688]];
const wGreenStep=[[52.8,10567],[53.8,10864],[57.3,11266],[61.8,11281],[63.8,11444],[72.3,11444],[74.3,11593],[76.3,11608],[77.8,11763],[82.8,11763],[87.8,12197],[97.9,12203]];
const wUp=[[35.7,13476],[39.7,13170],[43.3,12977],[45.8,12783],[49.8,13036],[53.8,12962],[58.8,12813],[64.8,13200],[70.8,12634],[73.8,12426],[85.8,13170],[92.9,13348],[105.9,13289],[113.9,13170],[119.9,13081]];
const wLow1=[[-4,13200],[7.7,13229],[18.7,12932],[27.7,12337],[33.7,11742],[41.8,11296],[46.8,10522],[49.8,10284],[55.8,10373],[64.8,10403],[69.8,11653],[75.8,12010],[85.8,12277],[95.9,12634],[103.9,12605],[109.9,12456],[119.9,12515]];
const wLow2=[[47.8,10820],[55.8,10790],[63.8,10849],[69.8,11296],[83.8,11593],[95.9,11891],[104.9,12129],[119.9,12040]];
const dRedStep=[[0.2,12880],[4.7,12880],[6.4,12785],[14,12667],[20.1,12447],[20.7,12390],[24.2,12390],[24.8,12335],[29.8,12335]];
const dGreenStep=[[48.3,12062],[48.7,12098],[54.8,12098],[55.8,12161],[57.8,12161],[59.9,12247],[61.9,12247],[65.8,12425],[76.9,12425],[78,12437],[84,12437],[85.9,12484],[124.8,12484]];
const dUp1=[[13,12902],[15.9,12840],[20.1,12893],[24.2,12777],[30.3,12689],[37.4,12550],[41.4,12469],[46.5,12352],[49.6,12359],[54.6,12432],[56.6,12520],[66.8,12550],[70.8,12682],[76.9,12858],[86.1,12902],[91.1,12880],[109.4,12807],[117.5,12836],[124.8,12741]];
const dMid=[[13,12682],[25.2,12642],[40.4,12601],[54.6,12531],[60.7,12517],[69.8,12469],[79,12447],[89.1,12438],[101.3,12440],[116.5,12469],[124.8,12506]];
const dLow1=[[3.9,12572],[13,12374],[19.1,12256],[24.2,12065]];
const dLow2=[[70.8,12062],[75.9,12241],[79,12315],[90.1,12484],[101.3,12586],[109.4,12660],[117,12620],[124.8,12814]];
// trend drawings [[bar,price],[bar,price]]
const trends4h=[[[209,12772],[293.8,12598]],[[209,12652],[293.8,12477]],[[209,12531],[293.9,12355]]];
const trends1w=[[[28.4,13479],[120,11974]],[[1.7,11147],[65.8,10076]],[[47,10368],[126,12694]],[[46.9,12081],[96.1,13476]],[[30.6,12045],[103.9,10954]]];
const trends1d=[[[41.9,12447],[80.5,12902]],[[66.3,12454],[96.2,12880]],[[43.5,12062],[124.8,12682]]];
const projection4h=[[292.9,12693.5],[298.9,12775],[309,12618],[317.9,12824.5]];
const pinkDots4h=[[19.9,12771],[64.9,12830],[129.8,12762],[191.9,12757],[209.9,12758],[255.9,12666]];
const greenDots4h=[[42.9,12602],[89.8,12593],[154.9,12617],[3,12477],[204.9,12633],[243.9,12551],[281,12537]];
// levels: [price, from bar, to bar, colour, width, dash]
const levels4h=[[12759,null,null,'#ff2a2a',2,'2 5'],[12631,null,null,'#43a047',2,'2 5'],[12698,null,null,'#0a7d0a',1,'1 3'],[12706,200,null,'#e060f0',1,''],[12708,null,null,'#ff9800',2,''],[12518,200,null,'#d633e8',1,''],[12689,290,null,'#56e0a8',2,''],[12627,290,null,'#3cdc9c',2,''],[12718,271.8,null,'#ffc06a',2,''],[12570,271.8,null,'#ffb74d',1.5,''],[12825,271.8,302,'#b2b5be',2,''],[12754,271.8,302,'#b2b5be',2,''],[12677,271.8,302,'#b2b5be',2,''],[12606,271.8,302,'#b2b5be',2,''],[12528,271.8,302,'#b2b5be',2,''],[12457.5,271.8,302,'#b2b5be',2,''],[12380,271.8,302,'#b2b5be',2,''],[12687.2,228.9,302,'#f23645',2.5,''],[12560.4,228.9,302,'#c9cbd1',2,''],[12530.5,228.9,302,'#c2c4cb',2,''],[12487.9,228.9,302,'#c9cbd1',2,''],[12433.7,228.9,302,'#388e3c',2.5,''],[12355.1,228.9,302,'#388e3c',2.5,'']];
const levels1w=[[13045,null,null,'#f9b4b4',1.5,'1 2'],[12890,null,null,'#ff2a2a',2,'2 5'],[11572,null,null,'#43a047',2,'2 5'],[12691,null,null,'#0a7d0a',1,'1 3'],[12182,null,null,'#ff0000',3,''],[13221,null,43,'#f05a50',1,''],[12572,null,43,'#81c784',1,''],[11662,null,42.8,'#0d47a1',1.5,''],[11099,null,43,'#b7c7ea',1,''],[12123,null,43,'#a5d6a7',1,''],[13307,112.7,null,'#b2b5be',2,''],[12551,112.7,null,'#b2b5be',2,''],[11971,112.7,null,'#b2b5be',2,''],[11212,112.7,null,'#b2b5be',2,''],[10626,112.7,null,'#b2b5be',2,''],[13399,87.6,125.9,'#c9cbd1',2,''],[12016,87.6,125.9,'#f23645',2.5,''],[12831,99.6,125.9,'#f23645',2.5,''],[11745,99.6,125.9,'#388e3c',2.5,''],[11412,99.6,125.9,'#388e3c',2.5,''],[11076,99.6,125.9,'#f23645',2.5,''],[12286,99.6,125.9,'#c9cbd1',2,''],[12158,99.6,125.9,'#c9cbd1',2,''],[11968,99.6,125.9,'#c9cbd1',2,'']];
const levels1d=[[12181,null,124.8,'#f7a1a1',1.5,'1 2'],[12782,null,null,'#ff2a2a',2,'2 5'],[12297,null,null,'#43a047',2,'2 5'],[12699,null,null,'#0a7d0a',1,'1 3'],[12626,null,null,'#ff0000',3,''],[12719,121.9,null,'#ffb74d',2,''],[12570,121.9,null,'#ffa726',2,''],[12708,111.4,null,'#e79cf2',2,''],[12518,111.4,null,'#e79cf2',2,''],[12880,109.9,130.9,'#b2b5be',2,''],[12783,109.9,130.9,'#b2b5be',1.5,''],[12691,109.9,130.9,'#b2b5be',1.5,''],[12595,109.9,130.9,'#b2b5be',1.5,''],[12501,109.9,130.9,'#b2b5be',1.5,''],[12404,109.9,130.9,'#b2b5be',1.5,'']];
// text labels on levels: [text, bar, price, anchor, colour]
const labels4h=[['R3 (1.283)',269.5,12825,'end','#9598a1'],['R2 (1.275)',269.5,12754,'end','#9598a1'],['R1 (1.268)',269.5,12677,'end','#9598a1'],['P (1.261)',269.5,12606,'end','#9598a1'],['S1 (1.253)',269.5,12521,'end','#9598a1'],['S2 (1.246)',269.5,12457.5,'end','#9598a1'],['S3 (1.238)',269.5,12380,'end','#9598a1'],['(1.26872)',304,12684,'start','#f23645'],['(1.25604)',304,12560,'start','#d1d4dc'],['(1.25305)',304,12529,'start','#d1d4dc'],['(1.24879)',304,12486,'start','#d1d4dc'],['(1.24337)',304,12432,'start','#388e3c'],['(1.23551)',304,12354,'start','#388e3c']];
const labels1w=[['(1.34034)',86.3,13399,'end','#d1d4dc'],['R1 (1.331)',110.6,13307,'end','#9598a1'],['P (1.25)',110.6,12551,'end','#9598a1'],['S1 (1.197)',110.6,11971,'end','#9598a1'],['S2 (1.122)',110.6,11212,'end','#9598a1'],['S3 (1.063)',110.6,10626,'end','#9598a1'],['(1.20201)',86.3,12016,'end','#f23645'],['(1.',127.9,12831,'start','#f23645'],['(1.',127.9,12286,'start','#d1d4dc'],['(1.',127.9,12158,'start','#d1d4dc'],['(1.',127.9,11968,'start','#d1d4dc'],['(1.',127.9,11745,'start','#388e3c'],['(1.',127.9,11412,'start','#388e3c'],['(1.',127.9,11076,'start','#f23645']];
const labels1d=[['R2 (1.288)',107.2,12880,'end','#9598a1'],['R1 (1.278)',107.2,12783,'end','#9598a1'],['P (1.269)',107.2,12691,'end','#9598a1'],['S1 (1.259)',107.2,12595,'end','#9598a1'],['S2 (1.25)',107.2,12501,'end','#9598a1'],['S3 (1.241)',107.2,12404,'end','#9598a1']];
const priceTicks4h=[12940,12920,12900,12880,12860,12840,12820,12800,12780,12760,12740,12720,12680,12660,12640,12620,12600,12580,12560,12540,12520,12500,12480,12460,12440,12420,12400,12380,12360,12340];
const priceTicks1w=[13000,12500,12000,11500,11000,10500];
const priceTicks1d=[12800,12600,12500,12400,12300,12200,12100];
const timeBars4h=[16.9,32,45.9,68.8,92.8,107.9,123,137.9,153,167.9,183,201,219,243,258,273,288,303];
const timeText4h=['18','14:00','26','2024','8','14:00','15','14:00','22','14:00','29','Feb','6','12','14:00','19','14:00','26'];
const timeBars1w=[8.8,25.8,43.8,60.8,77.8,91.8,112.7,126.8];
const timeText1w=['2022','May','Sep','2023','May','Aug','2024','8'];
const timeBars1d=[2.8,23.9,45.8,67.9,87.9,109.9,130.9];
const timeText1d=['Sep','Oct','Nov','Dec','2024','Feb','Mar'];
const stochTicks=[100,50,0];
const stochTicksShort=[100,0];

// ---------- drawing
const svg=d3.select('#c').append('svg').attr('width',3074).attr('height',1269).style('display','block');
svg.append('rect').attr('width',3074).attr('height',1269).attr('fill','#1e222d');
const defs=svg.append('defs');
let clipN=0;
function clip(x,y,w,h){const id='cp'+(clipN++);defs.append('clipPath').attr('id',id).append('rect').attr('x',x).attr('y',y).attr('width',w).attr('height',h);return `url(#${id})`;}
function lineOf(g,pts,x,y,color,w,op,dash){g.append('path').datum(pts).attr('fill','none').attr('stroke',color).attr('stroke-width',w).attr('stroke-opacity',op==null?1:op).attr('stroke-dasharray',dash||null).attr('stroke-linejoin','round').attr('d',d3.line().x(d=>x(d[0])).y(d=>y(d[1])));}
function textAt(g,s,x,y,o={}){return g.append('text').attr('x',x).attr('y',y).attr('text-anchor',o.a||'start').attr('dominant-baseline','central').attr('font-size',o.s||12).attr('font-weight',o.w||400).attr('fill',o.c||'#131722').text(s);}
function roundBtn(g,s,cx,cy){g.append('circle').attr('cx',cx).attr('cy',cy).attr('r',11).attr('fill','#f0f3fa');textAt(g,s,cx,cy,{a:'middle',c:'#131722',s:12});}
function bolt(g,cx,cy){g.append('circle').attr('cx',cx).attr('cy',cy).attr('r',9.5).attr('fill','#fff').attr('stroke','#9c27b0').attr('stroke-width',1.6);
 g.append('path').attr('fill','#9c27b0').attr('d',`M${cx+2} ${cy-6}L${cx-3.5} ${cy+1}H${cx-.5}L${cx-2} ${cy+6}L${cx+3.5} ${cy-1}H${cx+.5}Z`);
 g.append('circle').attr('cx',cx+5).attr('cy',cy-8).attr('r',2.6).attr('fill','#f23645').attr('stroke','#fff');}

function drawChart(c){
 const g=svg.append('g');
 g.append('rect').attr('x',c.L).attr('y',c.T).attr('width',c.R-c.L).attr('height',c.B-c.T).attr('fill','#fff').attr('stroke','#787b86').attr('stroke-width',1);
 const x=d3.scaleLinear().domain(c.xd).range(c.xr);
 const y=d3.scaleLinear().domain(c.yd).range(c.yr);
 const pane=g.append('g').attr('clip-path',clip(c.ax,c.T,c.px-c.ax,c.mb-c.T));
 // watermark
 textAt(pane,c.sym,(c.ax+c.px)/2,c.wm1,{a:'middle',s:c.wmS,c:'#eaebed'}).attr('dominant-baseline','auto');
 textAt(pane,'British Pound / U.S. Dollar',(c.ax+c.px)/2,c.wm2,{a:'middle',s:51.5,c:'#eaebed'}).attr('dominant-baseline','auto');
 c.faint.forEach(f=>lineOf(pane,f[0],x,y,f[1],1,f[2]));
 c.trends.forEach(t=>lineOf(pane,t,x,y,'#b8bac2',1.2,.7));
 // right-side session volume
 pane.append('g').selectAll('rect').data(c.sv).join('rect').attr('x',d=>c.svRight-d).attr('y',(d,i)=>y(c.svTop-i*c.svStep)-c.svH/2).attr('width',d=>d).attr('height',c.svH).attr('fill','#d1d3d9').attr('fill-opacity',.6);
 // left volume profile
 const vx=d3.scaleLinear().domain([0,1]).range([c.vpX,c.vpX+c.vpK]);
 const rows=c.vpUp.map((u,i)=>({u,t:c.vpAll[i],p:c.vpTop-i*c.vpStep}));
 const dark=d=>d.p<=c.vaHi&&d.p>=c.vaLo;
 const vp=pane.append('g');
 vp.selectAll('.d').data(rows).join('rect').attr('x',d=>vx(d.u)).attr('y',d=>y(d.p)-c.vpH/2).attr('width',d=>vx(d.t)-vx(d.u)).attr('height',c.vpH).attr('fill',d=>dark(d)?'#f9564c':'#fdadaa');
 vp.selectAll('.u').data(rows).join('rect').attr('x',vx(0)).attr('y',d=>y(d.p)-c.vpH/2).attr('width',d=>vx(d.u)-vx(0)).attr('height',c.vpH).attr('fill',d=>dark(d)?'#5eb665':'#b5e0b5');
 // indicator steps
 c.steps.forEach(f=>lineOf(pane,f[0],x,y,f[1],f[3]||1.2,f[2]));
 // levels
 c.levels.forEach(l=>pane.append('line').attr('x1',l[1]==null?c.ax:x(l[1])).attr('x2',l[2]==null?c.px:x(l[2])).attr('y1',y(l[0])).attr('y2',y(l[0])).attr('stroke',l[3]).attr('stroke-width',l[4]).attr('stroke-dasharray',l[5]||null).attr('shape-rendering','crispEdges'));
 c.labels.forEach(l=>textAt(pane,l[0],x(l[1]),y(l[2]),{a:l[3],c:l[4],s:12.5}));
 if(c.pink) pane.selectAll('.pk').data(c.pink).join('circle').attr('cx',d=>x(d[0])).attr('cy',d=>y(d[1])).attr('r',4.5).attr('fill','#f77c80').attr('fill-opacity',.7);
 if(c.green) pane.selectAll('.gn').data(c.green).join('circle').attr('cx',d=>x(d[0])).attr('cy',d=>y(d[1])).attr('r',4.5).attr('fill','#66bb6a').attr('fill-opacity',.65);
 // candles
 const cg=pane.append('g');
 cg.selectAll('line').data(c.bars).join('line').attr('x1',(d,i)=>x(i)).attr('x2',(d,i)=>x(i)).attr('y1',d=>y(d[2])).attr('y2',d=>y(d[3])).attr('stroke','#000').attr('stroke-width',1.1);
 cg.selectAll('rect').data(c.bars).join('rect').attr('x',(d,i)=>x(i)-c.bw/2).attr('width',c.bw).attr('y',d=>y(Math.max(d[0],d[1]))).attr('height',d=>Math.max(1.2,Math.abs(y(d[0])-y(d[1])))).attr('fill',d=>d[1]>=d[0]?'#008000':'#ff0000');
 if(c.project){lineOf(pane,c.project,x,y,'#5b9cf6',1.2);
   const a=c.project[c.project.length-1],ax=x(a[0]),ay=y(a[1]);pane.append('path').attr('d',`M${ax-4} ${ay+5}L${ax} ${ay}L${ax+4} ${ay+5}`).attr('fill','none').attr('stroke','#5b9cf6').attr('stroke-width',1.2);}
 bolt(pane,c.boltX,c.boltY);
 // oscillator pane
 const oy=d3.scaleLinear().domain(c.oscD).range(c.oscR);
 const oT=clip(c.ax,c.mb,c.osEnd-c.ax,oy(0)-c.mb), oB=clip(c.ax,oy(0),c.osEnd-c.ax,c.sb-oy(0));
 if(c.oscTrend) lineOf(g,c.oscTrend,d3.scaleLinear().domain([0,1]).range([c.ax,965]),oy,'#b8bac2',1.6);
 lineOf(g.append('g').attr('clip-path',oT),c.osc,x,oy,'#84c888',4);
 lineOf(g.append('g').attr('clip-path',oB),c.osc,x,oy,'#f7857a',4);
 g.append('line').attr('x1',c.ax).attr('x2',c.osEnd).attr('y1',oy(0)).attr('y2',oy(0)).attr('stroke','#6a6d78').attr('stroke-width',1.6);
 // stochastic pane
 const sy=d3.scaleLinear().domain([0,100]).range(c.stR);
 const sg=g.append('g').attr('clip-path',clip(c.ax,c.sb,c.px-c.ax,c.tb-c.sb));
 c.stLv.forEach(l=>sg.append('line').attr('x1',c.ax).attr('x2',c.px).attr('y1',sy(l[0])).attr('y2',sy(l[0])).attr('stroke',l[1]).attr('stroke-width',l[2]||1).attr('stroke-dasharray',l[3]||null));
 c.stoch.forEach(s=>lineOf(sg,s[0],x,sy,s[1],1));
 // frames
 [[c.mb,c.sepC],[c.sb,c.sepC],[c.tb,'#787b86']].forEach(s=>g.append('line').attr('x1',c.L).attr('x2',c.R).attr('y1',s[0]).attr('y2',s[0]).attr('stroke',s[1]).attr('stroke-width',1.6));
 [c.ax,c.px].forEach(v=>g.append('line').attr('x1',v).attr('x2',v).attr('y1',c.T).attr('y2',c.B).attr('stroke','#787b86').attr('stroke-width',1));
 // axes
 const pa=g.append('g').attr('transform',`translate(${c.px},0)`).call(d3.axisRight(y).tickValues(c.ticks).tickFormat(d=>(d/10000).toFixed(5)).tickSize(0).tickPadding(c.tp));
 pa.select('.domain').remove();pa.selectAll('text').attr('font-size',c.tickS).attr('fill','#131722').style('font-family','Roboto');
 const ta=g.append('g').attr('transform',`translate(0,${c.tb})`).call(d3.axisBottom(x).tickValues(c.tBars).tickFormat((d,i)=>c.tText[i]).tickSize(0).tickPadding(8));
 ta.select('.domain').remove();ta.selectAll('text').attr('font-size',c.tickS).attr('fill','#131722').style('font-family','Roboto').attr('font-weight',(d,i)=>/^20/.test(c.tText[i])?700:400);
 c.oscTicks.forEach(t=>textAt(g,t[0],c.px+c.tp,oy(t[1]),{s:c.tickS}));
 c.stTicks.forEach(v=>textAt(g,v.toFixed(2),(c.ax+c.L)/2+(c.L<100?1:2),sy(v),{a:'middle',s:11.5}));
 if(c.stRight) c.stTicks.forEach(v=>textAt(g,v.toFixed(2),c.px+c.tp,sy(v),{s:11.5}));
 // currency button, price tag
 g.append('rect').attr('x',c.px+5).attr('y',c.T+4).attr('width',c.R-c.px-10).attr('height',26).attr('rx',3).attr('fill','#fff').attr('stroke','#e0e3eb');
 textAt(g,'USD',c.px+c.usdDx,c.T+17,{s:12.5});
 g.append('rect').attr('x',c.px).attr('y',c.tagY).attr('width',61).attr('height',30).attr('rx',2).attr('fill','#008000');
 textAt(g,c.tag[0],c.px+c.tp,c.tagY+8,{c:'#fff',s:c.tickS});textAt(g,c.tag[1],c.px+c.tp,c.tagY+22,{c:'#d7f0d7',s:c.tickS});
 roundBtn(g,'Z',c.zX,(c.tb+c.B)/2);roundBtn(g,'A',c.aX,(c.tb+c.B)/2);
}
const faint=(a,cl,op)=>[a,cl,op];
drawChart({L:10,T:27,R:2116,B:1230,ax:66,px:2041,mb:1012,sb:1125,tb:1203,sepC:'#e0e3eb',sym:'GBPUSD, 4h',wmS:98,wm1:506,wm2:592,tickS:12,
 xd:[0,292],xr:[64.7,1865.3],yd:[12940,12340],yr:[87.8,1005.8],bars:candles4h,bw:4.8,
 faint:[faint(u1_4h,'#f9c4c4',.55),faint(u2_4h,'#f9c4c4',.55),faint(l0_4h,'#bfe0c1',.55),faint(l1_4h,'#bfe0c1',.55),faint(l2_4h,'#bfe0c1',.6)],trends:trends4h,
 sv:sessionVol4h,svRight:1865,svTop:12978.4,svStep:3.28,svH:2.6,
 vpUp:vpUp4h,vpAll:vpAll4h,vpX:66,vpK:1,vpTop:12826.8,vpStep:3.287,vpH:3.8,vaHi:12760,vaLo:12631,
 steps:[[pinkA_4h,'#f9a8ab',.7],[orangeA_4h,'#ffcc88',.7],[greenA_4h,'#a5d6a7',.7]],levels:levels4h,labels:labels4h,pink:pinkDots4h,green:greenDots4h,project:projection4h,boltX:1865,boltY:999,
 oscD:[50,-50],oscR:[1033,1098],osc:osc4h,osEnd:1865,oscTrend:[[0,60],[1,37]],
 stR:[1196,1133],stLv:[[80,'#ef3b2d'],[20,'#43a047'],[50,'#a8abb4',1.2,'5 5']],stoch:[[stochK4h,'#4caf50'],[stochD4h,'#ef3b2d']],
 ticks:priceTicks4h,tp:8,tBars:timeBars4h,tText:timeText4h,oscTicks:[['50.00000',50],['0.00000',0],['−50.00000',-50]],stTicks:stochTicks,
 usdDx:17,tagY:450,tag:['1.26981','01:26:34'],zX:38,aX:2078.6});
drawChart({L:2122,T:27,R:3064,B:629,ax:2181.5,px:2998.6,mb:494,sb:562.4,tb:601,sepC:'#50535e',sym:'GBPUSD, 1W',wmS:98,wm1:247,wm2:332,tickS:13,
 xd:[0,120],xr:[2206.6,2935],yd:[13000,10500],yr:[92.7,435.7],bars:candles1w,bw:5,
 faint:[faint(wUp,'#f9c4c4',.6),faint(wLow1,'#bfe0c1',.6),faint(wLow2,'#bfe0c1',.6)],trends:trends1w,
 sv:sessionVol1w,svRight:2934,svTop:13450,svStep:34.8,svH:2.4,
 vpUp:vpUp1w,vpAll:vpAll1w,vpX:2180,vpK:1/3,vpTop:13472,vpStep:34.8,vpH:3.6,vaHi:12890,vaLo:11560,
 steps:[[wRedStep,'#f4645a',.9,1.5],[wGreenStep,'#5cb563',.95,1.5]],levels:levels1w,labels:labels1w,pink:[[105.3,12888]],green:[[52.8,10567]],boltX:2934,boltY:481.6,
 oscD:[100,-100],oscR:[523.7-40.8,523.7+40.8],osc:osc1w,osEnd:2934,
 stR:[597,566],stLv:[[83,'#ef3b2d'],[25,'#43a047'],[55,'#50535e',1.4],[41,'#50535e'],[47,'#a8abb4',1,'4 4']],stoch:[[kFast1w,'#4caf50'],[dFast1w,'#ef3b2d'],[kSlow1w,'#4caf50'],[dSlow1w,'#ef3b2d']],
 ticks:priceTicks1w,tp:8.4,tBars:timeBars1w,tText:timeText1w,oscTicks:[['0.00000',0]],stTicks:stochTicksShort,stRight:1,
 usdDx:13,tagY:127,tag:['1.26982','1d 14h'],zX:2151.6,aX:3031});
drawChart({L:2122,T:634,R:3064,B:1233.7,ax:2181.5,px:2995,mb:1099.3,sb:1167.5,tb:1206.4,sepC:'#50535e',sym:'GBPUSD, 1D',wmS:98,wm1:854.6,wm2:939,tickS:13,
 xd:[0,125],xr:[2181.6,2931.6],yd:[12800,12100],yr:[695.8,1078.4],bars:candles1d,bw:5,
 faint:[faint(dUp1,'#f9c4c4',.6),faint(dMid,'#f2b5b5',.6),faint(dLow1,'#bfe0c1',.6),faint(dLow2,'#bfe0c1',.6)],trends:trends1d,
 sv:sessionVol1d,svRight:2930.4,svTop:12898,svStep:7.92,svH:2.2,
 vpUp:vpUp1d,vpAll:vpAll1d,vpX:2180,vpK:1/3,vpTop:12818,vpStep:7.95,vpH:3.2,vaHi:12782,vaLo:12297,
 steps:[[dRedStep,'#f4645a',.9,1.5],[dGreenStep,'#5cb563',.95,1.5]],levels:levels1d,labels:labels1d,boltX:2931.6,boltY:1087,
 oscD:[100,-100],oscR:[1128.6-40.1,1128.6+40.1],osc:osc1d,osEnd:2931,
 stR:[1201.6,1171.5],stLv:[[77,'#ef3b2d'],[17,'#43a047'],[53,'#50535e',1.4],[45,'#50535e'],[47,'#a8abb4',1,'4 4']],stoch:[[kFast1d,'#4caf50'],[dFast1d,'#ef3b2d'],[kSlow1d,'#4caf50'],[dSlow1d,'#ef3b2d']],
 ticks:priceTicks1d,tp:8.4,tBars:timeBars1d,tText:timeText1d,oscTicks:[['0.00000',0]],stTicks:stochTicksShort,stRight:1,
 usdDx:13,tagY:743.5,tag:['1.26982','13:26:33'],zX:2151.6,aX:3029});
// header and footer
textAt(svg,'Tickmill published on TradingView.com, Feb 22, 2024 08:33 UTC',10,15.5,{c:'#d1d4dc',s:12.9});
const logo=svg.append('g').attr('fill','#d1d4dc');
logo.append('path').attr('d','M10 1247h11v10h-5v-6h-6z');logo.append('circle').attr('cx',23.5).attr('cy',1249).attr('r',2);logo.append('path').attr('d','M27 1247h4l-4 10h-4z');
textAt(svg,'TradingView',33,1252.5,{c:'#d1d4dc',s:13.5,w:500});
</script></body></html>
